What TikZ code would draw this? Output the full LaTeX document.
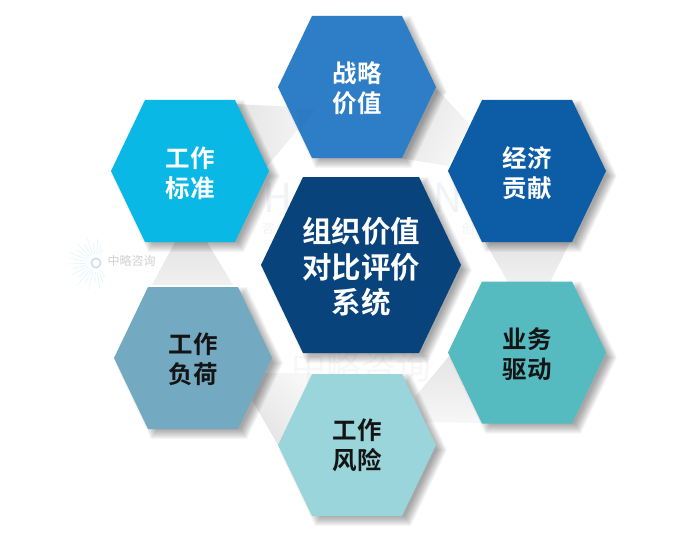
\documentclass[tikz,border=0pt]{standalone}
\usepackage{fontspec}
\setmainfont{Noto Sans CJK SC}[BoldFont={Noto Sans CJK SC Bold}]
\usetikzlibrary{calc}
\definecolor{cTop}{HTML}{2E7EC7}
\definecolor{cEcon}{HTML}{0D5CA6}
\definecolor{cStd}{HTML}{0AB8E6}
\definecolor{cMid}{HTML}{08437C}
\definecolor{cDrv}{HTML}{55BBC0}
\definecolor{cRisk}{HTML}{9AD5DB}
\definecolor{cLoad}{HTML}{73AAC1}
\definecolor{cWedge}{HTML}{E4E4E4}
\definecolor{cMark}{HTML}{F1F3F6}
\newcommand{\hexpath}[5]{({#1-(#3)},{#2}) -- ({#1-(#5)},{#2-(#4)}) -- ({#1+(#5)},{#2-(#4)}) -- ({#1+(#3)},{#2}) -- ({#1+(#5)},{#2+(#4)}) -- ({#1-(#5)},{#2+(#4)}) -- cycle}
% cx cy halfwidth halfheight halftop colour
\newcommand{\hexa}[6]{%
  \foreach \r in {5,4,3,2,1,0,-1,-2,-3,-4,-5}{%
    \fill[black,opacity=0.034] \hexpath{#1+6}{#2+5}{#3+\r}{#4+\r}{#5+0.6*\r};%
  }%
  \fill[#6] \hexpath{#1}{#2}{#3}{#4}{#5};%
}
\tikzset{
  smallhex/.style={font=\fontsize{24.5}{30}\selectfont\bfseries,align=center,inner sep=0pt},
  lighttext/.style={smallhex,text=white},
  darktext/.style={smallhex,text=black!92},
  midtext/.style={font=\fontsize{29.5}{35.5}\selectfont\bfseries,align=center,inner sep=0pt,text=white},
  wedge/.style={shading=axis,left color=cWedge,right color=cWedge!30,shading angle=#1},
  wedge/.default=0,
  markA/.style={text=cMark,inner sep=0pt},
  ray/.style={draw=#1,line width=0.5pt,line cap=round},
}
\begin{document}
\begin{tikzpicture}[x=1pt,y=-1pt]
\useasboundingbox (0,0) rectangle (700,532);
\fill[white] (0,0) rectangle (700,532);

% faint watermark behind the figure
\node[markA,font=\fontsize{40}{40}\selectfont] (wmH) at (278,198) {H};
\node[markA,font=\fontsize{40}{40}\selectfont] (wmN) at (448,198) {N};
\node[markA,font=\fontsize{13}{13}\selectfont] (wmZ) at (268,229) {咨};
\node[markA,font=\fontsize{13}{13}\selectfont] (wmC) at (468,229) {创};

% pale grey wedges between hexagons
\shade[wedge=90] (235,104) -- (316,108) -- (262,172) -- cycle;
\shade[wedge=60] (436,88) -- (470,125) -- (448,166) -- (400,158) -- cycle;
\shade[top color=cWedge,bottom color=cWedge!55] (485,242) -- (570,242) -- (550,282) -- (508,282) -- cycle;
\shade[wedge=0] (415,397) -- (450,355) -- (484,423) -- (425,422) -- cycle;
\shade[wedge=135] (263,373) -- (313,373) -- (278,445) -- (252,400) -- cycle;
\shade[top color=cWedge,bottom color=cWedge!55] (175,242) -- (207,242) -- (233,285) -- (152,285) -- cycle;

% watermark over the wedges
\node[text=gray,opacity=0.06,inner sep=0pt,font=\fontsize{35}{35}\selectfont] (wmBig) at (361,366) {中略咨询};

% logo
\coordinate (sun) at (96,263);
\foreach \a/\l in {70/20,82/25,94/19,106/27,118/23,130/29,142/22,154/28,166/24,178/29,190/25,202/28,214/23,226/27,238/22,250/26,262/20,274/24,286/18,58/17,298/15}{
  \draw[ray=cStd!14] ($(sun)+(\a:9)$) -- ($(sun)+(\a:\l)$);
}
\draw[draw=cLoad!35,line width=1.8pt] (sun) circle (4.6);
\node[text=black!18,inner sep=0pt,font=\fontsize{12}{12}\selectfont] (logoT) at (131.5,261) {中略咨询};

% hexagons
\hexa{357}{87}{79}{71}{45}{cTop}
\fill[black,opacity=0.025] (296,109) -- (315,109) -- (300,130) -- cycle;
\hexa{190}{171}{79}{71}{45}{cStd}
\hexa{527}{171}{79}{71}{45}{cEcon}
\hexa{193}{358}{79}{71}{45}{cLoad}
\hexa{527}{352.5}{79}{71}{45}{cDrv}
\hexa{357}{445}{79}{71}{45}{cRisk}
\hexa{361}{265}{100}{88}{58}{cMid}

% labels
\node[lighttext] (top) at (357,88) {战略\\价值};
\node[lighttext] (std) at (190,173) {工作\\标准};
\node[lighttext] (econ) at (527,173) {经济\\贡献};
\node[darktext] (load) at (193,359) {工作\\负荷};
\node[darktext] (drv) at (527,354) {业务\\驱动};
\node[darktext] (risk) at (357,445) {工作\\风险};
\node[midtext] (mid) at (361,267) {组织价值\\对比评价\\系统};
\end{tikzpicture}
\end{document}
